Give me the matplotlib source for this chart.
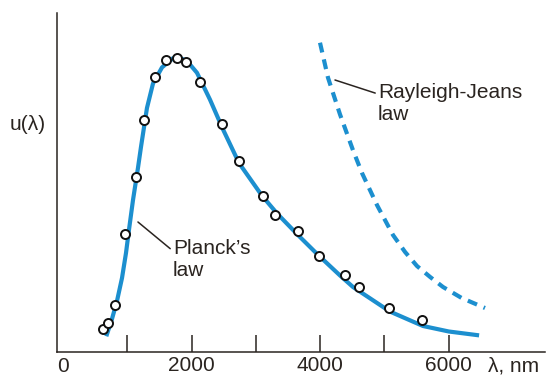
import matplotlib
matplotlib.use("Agg")
import matplotlib.pyplot as plt

plt.rcParams["font.family"] = ["Liberation Sans", "DejaVu Sans"]

# measured points (circles): wavelength in nm, u(lambda) in arbitrary units
meas_nm = [622, 700, 809, 964, 1135, 1260, 1431, 1602, 1773, 1913, 2131,
           2473, 2737, 3110, 3297, 3655, 3981, 4386, 4603, 5070, 5583]
meas_u = [22.7, 28.7, 46.9, 118, 175, 232, 275.5, 291.7, 293.9, 290, 270.3,
          227.6, 190.9, 156.3, 137.5, 120.9, 96.2, 76.7, 64.9, 44.4, 31.9]

# Planck's law curve
planck_nm = [684, 762, 840, 918, 980, 1026, 1089, 1166, 1213, 1306, 1400,
             1540, 1711, 1800, 1928, 2084, 2286, 2488, 2737, 3095, 3328,
             3654, 3965, 4307, 4510, 5086, 5599, 6000, 6439]
planck_u = [17.7, 33, 51, 74, 99, 122, 152, 184, 205, 244, 268.5,
            284.6, 293.8, 294.5, 291.1, 279.2, 252.4, 222.7, 189, 156.3,
            138.6, 117, 97.2, 76.6, 65, 40.4, 26, 20.5, 16.9]

# Rayleigh-Jeans law curve
rj_nm = [3997, 4121, 4308, 4510, 4650, 4883, 5132, 5320, 5505, 5710, 5910,
         6200, 6563]
rj_u = [309.3, 274.4, 237.6, 201.8, 179, 147, 117, 100, 86, 75, 65, 54, 44]

xticks = [1000, 2000, 3000, 4000, 5000, 6000]
xlabels = ["", "2000", "", "4000", "", "6000"]

blue = "#1c8fcf"
ink = "#2a2420"

fig = plt.figure(figsize=(5.51, 3.84), dpi=100)
ax = fig.add_axes([57 / 551, 1 - 352 / 384, (545 - 57) / 551, (352 - 13) / 384])

ax.plot(planck_nm, planck_u, color=blue, lw=3.0, solid_joinstyle="round",
        zorder=2)
ax.plot(rj_nm, rj_u, color=blue, lw=3.0, dashes=(2.4, 1.7), zorder=2)
ax.plot(meas_nm, meas_u, ls="none", marker="o", ms=6.5, mfc="white",
        mec="#111111", mew=1.4, zorder=3)

ax.set_xlim(-93, 7496)
ax.set_ylim(0, 339)

for side in ("top", "right"):
    ax.spines[side].set_visible(False)
for side in ("left", "bottom"):
    ax.spines[side].set_color(ink)
    ax.spines[side].set_linewidth(1.1)

ax.set_yticks([])
ax.set_xticks(xticks)
ax.set_xticklabels(xlabels)
ax.tick_params(axis="x", direction="in", length=12, width=1.1, color=ink,
               labelsize=15, labelcolor=ink, pad=3)

# label "0" at origin and axis names
ax.text(0, -5, "0", ha="center", va="top", fontsize=15, color=ink)
ax.text(6610, -5, "λ, nm", ha="left", va="top", fontsize=15, color=ink)
fig.text(10 / 551, 1 - 125 / 384, "u(λ)", ha="left", va="center",
         fontsize=15, color=ink)

# callouts
ax.annotate("Planck’s\nlaw", xy=(1166, 130), xytext=(1711, 92),
            ha="left", va="center", fontsize=15, color=ink, linespacing=1.2,
            arrowprops=dict(arrowstyle="-", color=ink, lw=1.1,
                            shrinkA=0, shrinkB=0, relpos=(0, 0.72)))
ax.annotate("Rayleigh-Jeans\nlaw", xy=(4230, 272), xytext=(4899, 249),
            ha="left", va="center", fontsize=15, color=ink, linespacing=1.2,
            arrowprops=dict(arrowstyle="-", color=ink, lw=1.1,
                            shrinkA=0, shrinkB=0, relpos=(0, 0.72)))

fig.savefig("out.png", dpi=100)
